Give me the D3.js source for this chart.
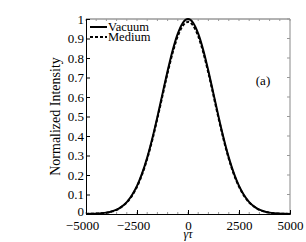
<!DOCTYPE html>
<html>
<head>
<meta charset="utf-8">
<script src="https://cdn.jsdelivr.net/npm/d3@7"></script>
<style>
  body { margin: 0; background: #fff; }
  text { font-family: "Liberation Serif", "DejaVu Serif", serif; fill: #000; }
</style>
</head>
<body>
<script>
// values (gamma*tau vs normalized intensity)
var tau = [-5000,-4750,-4500,-4250,-4000,-3750,-3500,-3250,-3000,-2750,-2500,-2250,-2000,-1750,-1500,-1250,-1000,-750,-500,-250,0,
           250,500,750,1000,1250,1500,1750,2000,2250,2500,2750,3000,3250,3500,3750,4000,4250,4500,4750,5000];
var vacuum = [0.0004,0.0009,0.0019,0.0037,0.007,0.013,0.022,0.038,0.061,0.096,0.144,0.208,0.289,0.387,0.498,0.616,0.733,0.840,0.925,0.981,1.0,
              0.981,0.925,0.840,0.733,0.616,0.498,0.387,0.289,0.208,0.144,0.096,0.061,0.038,0.022,0.013,0.007,0.0037,0.0019,0.0009,0.0004];
var medium = [0.0004,0.0009,0.0019,0.0036,0.0068,0.0125,0.021,0.037,0.059,0.093,0.140,0.203,0.283,0.380,0.490,0.607,0.723,0.828,0.912,0.966,0.985,
              0.966,0.912,0.828,0.723,0.607,0.490,0.380,0.283,0.203,0.140,0.093,0.059,0.037,0.021,0.0125,0.0068,0.0036,0.0019,0.0009,0.0004];
var xTicks = [-5000,-2500,0,2500,5000];
var yTicks = [0,0.1,0.2,0.3,0.4,0.5,0.6,0.7,0.8,0.9,1];
var legendNames = ["Vacuum","Medium"];

var padL = 86, padR = 290, padT = 19, padB = 214;

var svg = d3.select("body").append("svg")
    .attr("width", 306)
    .attr("height", 242);

var x = d3.scaleLinear().domain([-5000, 5000]).range([padL, padR]);
var y = d3.scaleLinear().domain([0, 1]).range([padB, padT]);

var fmt = function(d) { return d < 0 ? "\u2212" + Math.abs(d) : String(d); };

// box
svg.append("line").attr("x1", padL).attr("x2", padR).attr("y1", padT).attr("y2", padT)
  .attr("stroke", "#666").attr("stroke-width", 1);
svg.append("line").attr("x1", padR).attr("x2", padR).attr("y1", padT).attr("y2", padB)
  .attr("stroke", "#888").attr("stroke-width", 1);

// minor ticks on top/bottom
var minorX = d3.range(-5000, 5001, 500);
svg.selectAll(".mxb").data(minorX).enter().append("line")
  .attr("x1", function(d) { return x(d); }).attr("x2", function(d) { return x(d); })
  .attr("y1", padB).attr("y2", padB - 2)
  .attr("stroke", "#999");
svg.selectAll(".mxt").data(minorX).enter().append("line")
  .attr("x1", function(d) { return x(d); }).attr("x2", function(d) { return x(d); })
  .attr("y1", padT).attr("y2", padT + 2)
  .attr("stroke", "#999");
// right ticks
svg.selectAll(".ry").data(yTicks).enter().append("line")
  .attr("x1", padR).attr("x2", padR - 3)
  .attr("y1", function(d) { return y(d); }).attr("y2", function(d) { return y(d); })
  .attr("stroke", "#999");

var xaxis = d3.axisBottom(x).tickValues(xTicks).tickSize(-4).tickPadding(7).tickFormat(fmt);
var gx = svg.append("g")
  .attr("transform", "translate(0," + padB + ")")
  .call(xaxis);
gx.select(".domain").attr("stroke", "#000");
gx.selectAll("text").attr("font-size", 13).attr("font-family", "Liberation Serif")
  .attr("dx", function(d) { return d < 0 ? -4 : 0; });

var yaxis = d3.axisLeft(y).tickValues(yTicks).tickSize(-4).tickPadding(2)
  .tickFormat(function(d) { return d === 0 || d === 1 ? String(d) : d.toFixed(1); });
var gy = svg.append("g")
  .attr("transform", "translate(" + padL + ",0)")
  .call(yaxis);
gy.select(".domain").attr("stroke", "#000");
gy.selectAll("text").attr("font-size", 13).attr("font-family", "Liberation Serif")
  .attr("y", function(d) { return d === 0 ? -3 : 0; });

// curves
var pts = function(vals) { return tau.map(function(t, i) { return [t, vals[i]]; }); };
var line = d3.line().curve(d3.curveMonotoneX)
  .x(function(d) { return x(d[0]); })
  .y(function(d) { return y(d[1]); });

svg.append("path").datum(pts(vacuum))
  .attr("d", line).attr("fill", "none")
  .attr("stroke", "#000").attr("stroke-width", 2);
svg.append("path").datum(pts(medium))
  .attr("d", line).attr("fill", "none")
  .attr("stroke", "#000").attr("stroke-width", 2)
  .attr("stroke-dasharray", "3,2");

// legend
var leg = svg.append("g");
legendNames.forEach(function(name, i) {
  var ly = 27 + i * 10;
  leg.append("line").attr("x1", 90).attr("x2", 107).attr("y1", ly).attr("y2", ly)
    .attr("stroke", "#000").attr("stroke-width", 2)
    .attr("stroke-dasharray", i === 1 ? "3,2" : null);
  leg.append("text").attr("x", 108).attr("y", ly + 4)
    .attr("font-size", 12.5).text(name);
});

// labels
svg.append("text").attr("x", 263).attr("y", 85)
  .attr("text-anchor", "middle").attr("font-size", 13).text("(a)");

svg.append("text").attr("transform", "translate(60,116.5) rotate(-90)")
  .attr("text-anchor", "middle").attr("font-size", 14).text("Normalized Intensity");

svg.append("text").attr("x", 188).attr("y", 238)
  .attr("text-anchor", "middle").attr("font-size", 12).attr("font-style", "italic")
  .text("\u03b3\u03c4");
</script>
</body>
</html>
